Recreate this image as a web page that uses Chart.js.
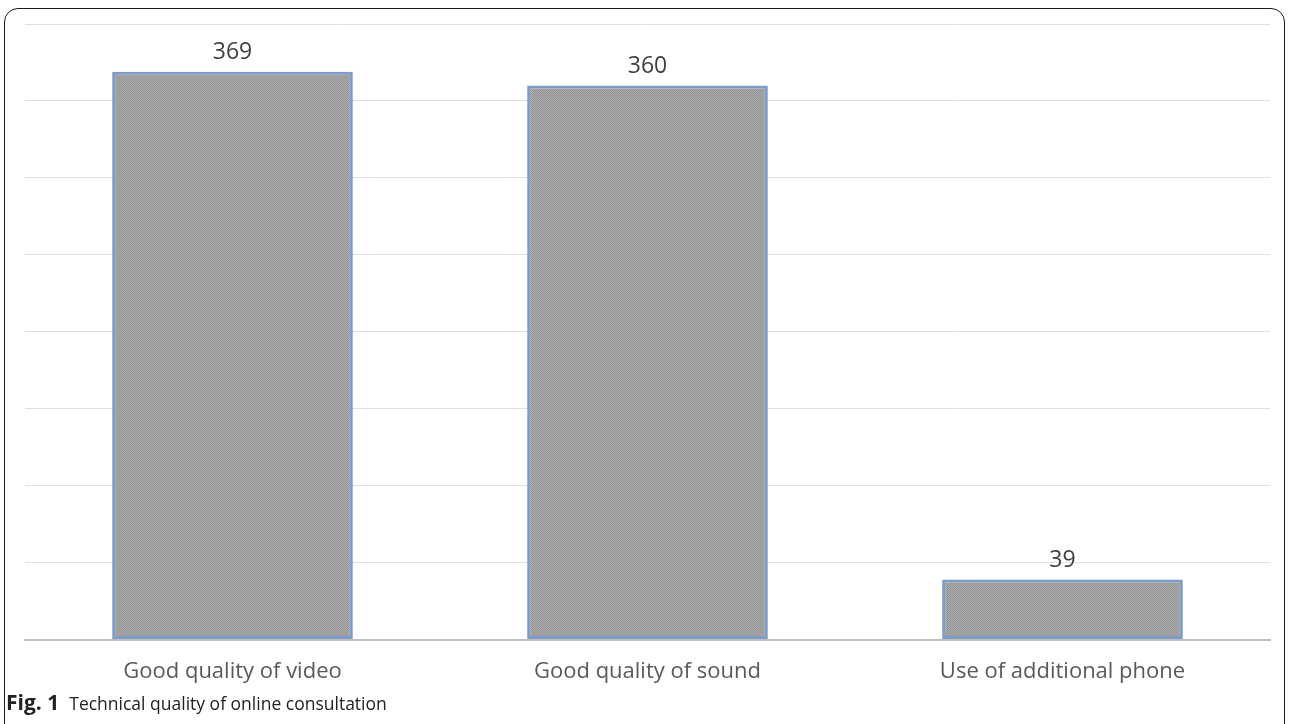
<!DOCTYPE html>
<html>
<head>
<meta charset="utf-8">
<script src="https://cdn.jsdelivr.net/npm/chart.js@4.4.1/dist/chart.umd.min.js"></script>
<style>
  html, body { margin: 0; padding: 0; background: #fff; }
  body { width: 1290px; height: 724px; position: relative; overflow: hidden; }
  #frame {
    position: absolute; left: 4px; top: 8px; width: 1281px; height: 730px;
    border: 1.5px solid #1a1a1a; border-radius: 14px; box-sizing: border-box;
  }
  #wrap { position: absolute; left: 0; top: 0; width: 1290px; height: 724px; }
  #caption {
    position: absolute; left: 6px; top: 690px; font-family: "Open Sans", sans-serif;
    font-size: 17.5px; color: #222; white-space: nowrap; line-height: 24px;
  }
  #caption b { font-weight: 700; font-size: 21px; margin-right: 10px; }
</style>
</head>
<body>
<div id="frame"></div>
<div id="wrap"><canvas id="c" width="1290" height="724"></canvas></div>
<div id="caption"><b>Fig. 1</b>Technical quality of online consultation</div>
<script>
const categories = ["Good quality of video", "Good quality of sound", "Use of additional phone"];
const counts = [369, 360, 39];
const yMax = 400;
const yStep = 50;

// fine dotted grey fill for the bars
function dotPattern() {
  const p = document.createElement("canvas");
  p.width = 2; p.height = 2;
  const g = p.getContext("2d");
  g.fillStyle = "#a9a9a9";
  g.fillRect(0, 0, 2, 2);
  g.fillStyle = "#969696";
  g.fillRect(0, 0, 1, 1);
  g.fillRect(1, 1, 1, 1);
  return document.getElementById("c").getContext("2d").createPattern(p, "repeat");
}

// value written above each bar
const valueLabels = {
  id: "valueLabels",
  afterDatasetsDraw(chart) {
    const ctx = chart.ctx;
    const meta = chart.getDatasetMeta(0);
    ctx.save();
    ctx.font = '23px "Open Sans", sans-serif';
    ctx.fillStyle = "#404040";
    ctx.textAlign = "center";
    ctx.textBaseline = "alphabetic";
    meta.data.forEach((bar, i) => {
      ctx.fillText(String(counts[i]), bar.x, bar.y - 13);
    });
    ctx.restore();
  }
};

new Chart(document.getElementById("c"), {
  type: "bar",
  data: {
    labels: categories,
    datasets: [{
      data: counts,
      backgroundColor: dotPattern(),
      borderColor: "#7c9cca",
      borderWidth: 3,
      borderSkipped: false,
      categoryPercentage: 0.58,
      barPercentage: 1.0
    }]
  },
  options: {
    responsive: false,
    animation: false,
    layout: { padding: { left: 25, right: 20, top: 24, bottom: 28 } },
    plugins: { legend: { display: false }, tooltip: { enabled: false } },
    scales: {
      x: {
        grid: { display: false },
        border: { color: "#bfbfbf", width: 2 },
        ticks: { color: "#595959", font: { family: "Open Sans", size: 22 }, padding: 11 }
      },
      y: {
        min: 0, max: yMax,
        ticks: { display: false, stepSize: yStep },
        grid: { color: "#e0e0e0", lineWidth: 1, drawTicks: false },
        border: { display: false }
      }
    }
  },
  plugins: [valueLabels]
});
</script>
</body>
</html>
